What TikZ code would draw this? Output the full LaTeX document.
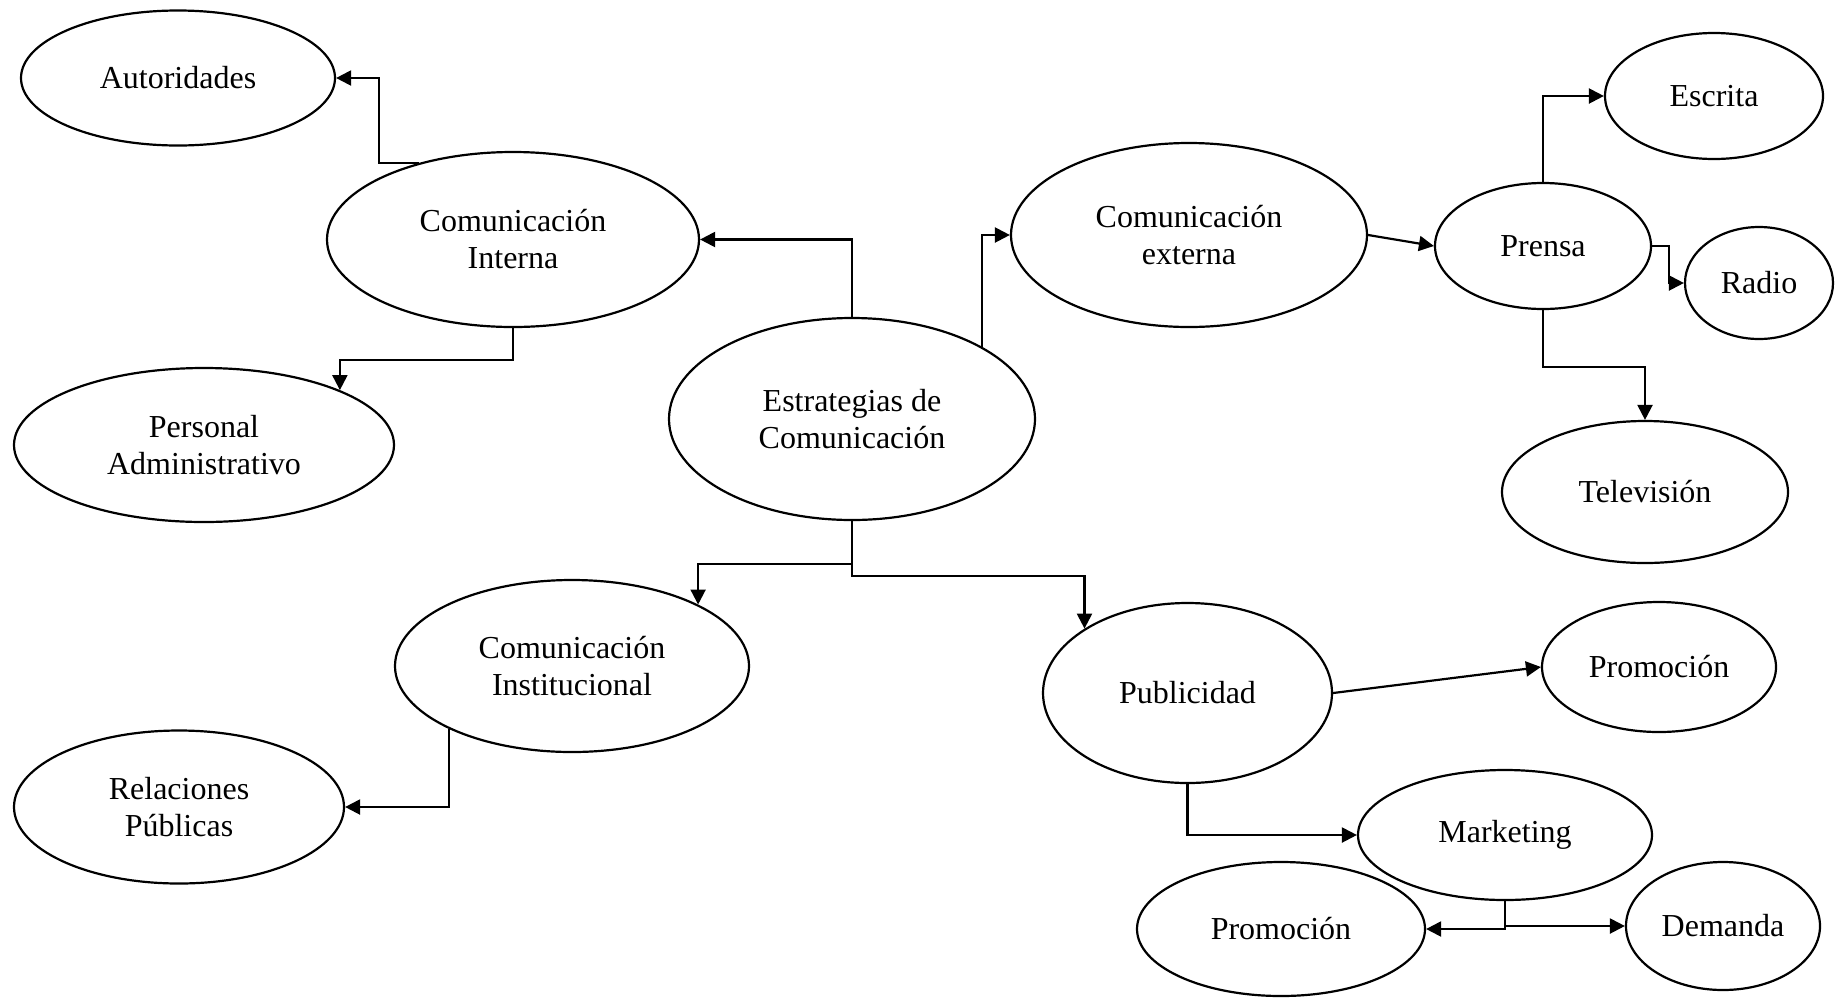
\documentclass[tikz,border=0pt]{standalone}
\usepackage{fontspec}
\setmainfont{Liberation Serif}
\usepackage{tikz}
\usetikzlibrary{arrows.meta,calc,positioning,shapes}
\tikzset{
  mapnode/.style = {align=center, inner sep=0pt, ellipse, black, draw, fill=white, text
  centered, font=\fontsize{16}{18.5}\selectfont},
  elsize/.style 2 args = {minimum width=#1pt, minimum height=#2pt}
}

\begin{document}
\begin{tikzpicture}[->,>={Triangle[length=7.5pt,width=7.5pt]},x=0.5pt,y=-0.5pt,
        	line width=1.1pt,
        	big/.style={mapnode},
        	small/.style={mapnode}]
            \useasboundingbox (0,0) rectangle (1836,997);
            \node [big, elsize={183}{101}] (est) at (852,419) {Estrategias de\\Comunicación};
            \node [big, elsize={186}{87.5}] (int) at (513,239.5) {Comunicación\\Interna};
            \node [big, elsize={178}{92}] (ext) at (1189,235) {Comunicación\\externa};
            \node [big, elsize={177}{86}] (inst) at (572,666) {Comunicación\\Institucional};
            \node [big, elsize={144.5}{90}] (pub) at (1187.5,693) {Publicidad};
            \node [small, elsize={157}{67.5}] (aut) at (178,78) {Autoridades};
            \node [small, elsize={190}{77}] (pers) at (204,445) {Personal\\Administrativo};
            \node [small, elsize={165}{76.5}] (rel) at (179,807) {Relaciones\\Públicas};
            \node [small, elsize={108}{63}] (prensa) at (1543,246) {Prensa};
            \node [small, elsize={109}{63}] (escr) at (1714,96) {Escrita};
            \node [small, elsize={74}{56}] (radio) at (1759,283) {Radio};
            \node [small, elsize={143}{71}] (tv) at (1645,492) {Televisión};
            \node [small, elsize={117}{65}] (promo) at (1659,667) {Promoción};
            \node [small, elsize={147}{65}] (mkt) at (1505,835) {Marketing};
            \node [small, elsize={144}{67}] (promob) at (1281,929) {Promoción};
            \node [small, elsize={97}{64}] (dem) at (1723,926) {Demanda};

            \draw (est.north) |- (int.east);
            \draw (est.29) |- (ext.west);
            \draw (est.south) -- ++(0,43) -| (inst.26);
            \draw (est.south) -- ++(0,55) -| (pub.148);
            \draw (int.141) -| ($(aut.east)+(43,0)$) -- (aut.east);
            \draw (int.south) -- ++(0,32) -| (pers.22);
            \draw (inst.207) |- (rel.east);
            \draw (ext.east) -- (prensa.west);
            \draw (prensa.north) |- (escr.west);
            \draw (prensa.east) -- ++(17,0) |- (radio.west);
            \draw (prensa.south) -- ++(0,57) -| (tv.north);
            \draw (pub.east) -- (promo.west);
            \draw (pub.south) |- (mkt.west);
            \draw (mkt.south) |- (promob.east);
            \draw (mkt.south) |- (dem.west);
        \end{tikzpicture}
\end{document}
